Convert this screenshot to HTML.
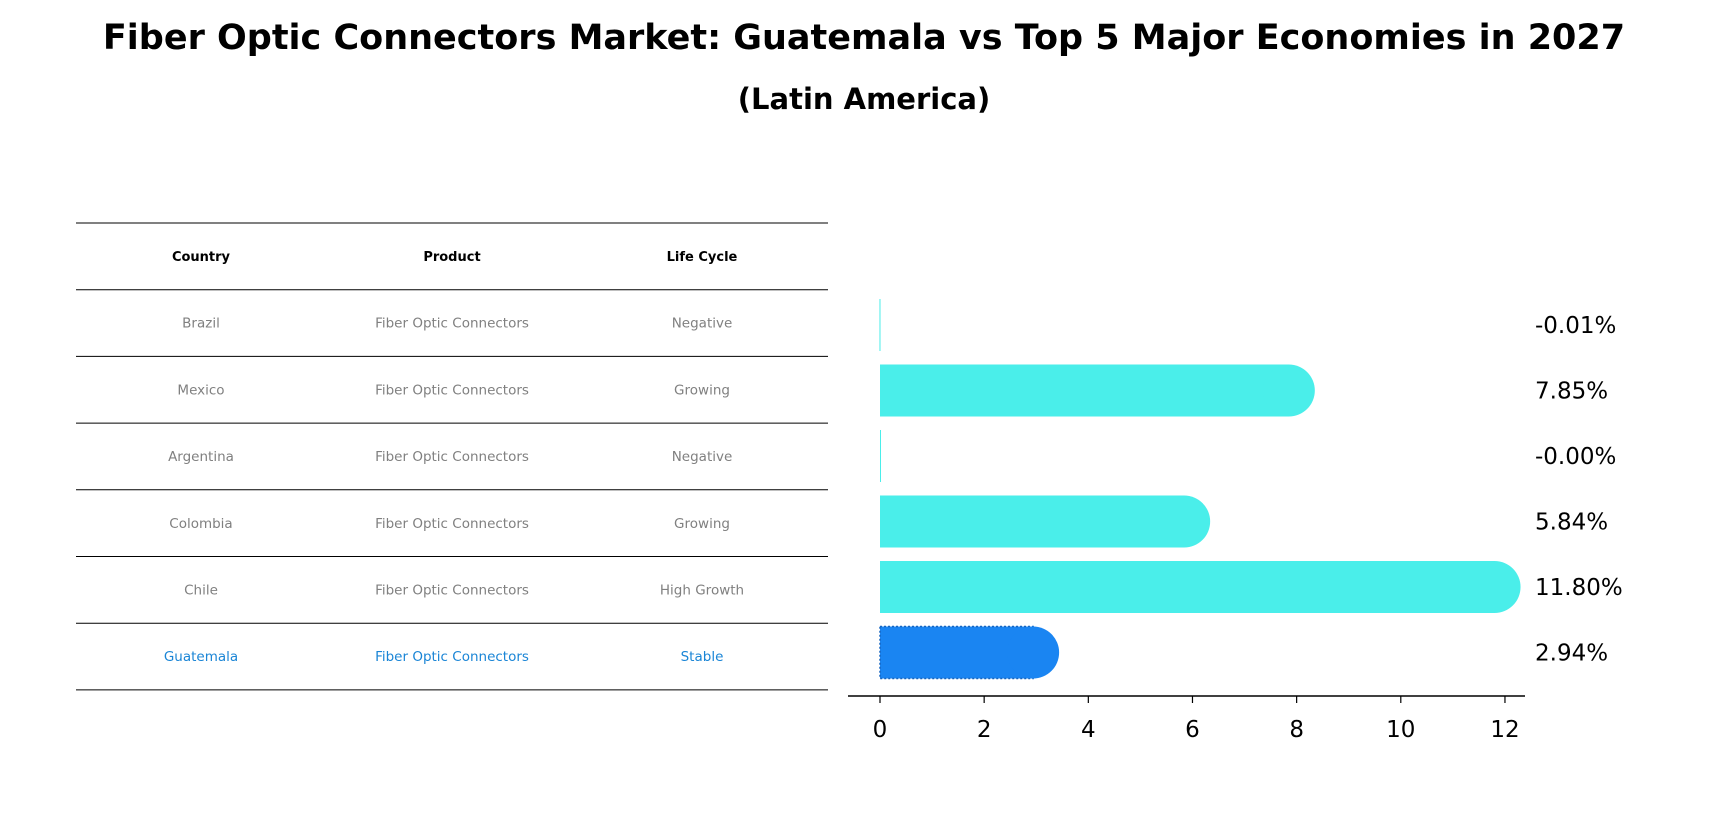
<!DOCTYPE html>
<html><head><meta charset="utf-8"><style>
body{margin:0;background:#fff;font-family:"Liberation Sans","DejaVu Sans",sans-serif}
#wrap{position:relative;width:1728px;height:823px;overflow:hidden}
</style></head><body>
<div id="wrap">
<svg id="svg" width="1728" height="823" xmlns="http://www.w3.org/2000/svg">
<text x="864" y="49" text-anchor="middle" font-family="DejaVu Sans, sans-serif" font-weight="bold" font-size="35">Fiber Optic Connectors Market: Guatemala vs Top 5 Major Economies in 2027</text>
<text x="864" y="109" text-anchor="middle" font-family="DejaVu Sans, sans-serif" font-weight="bold" font-size="29">(Latin America)</text>
<g id="table"></g>
<g id="bars"></g>
</svg>
</div>
<script>
const countries=["Brazil","Mexico","Argentina","Colombia","Chile","Guatemala"];
const products=["Fiber Optic Connectors","Fiber Optic Connectors","Fiber Optic Connectors","Fiber Optic Connectors","Fiber Optic Connectors","Fiber Optic Connectors"];
const lifecycle=["Negative","Growing","Negative","Growing","High Growth","Stable"];
const values=[-0.01,7.85,-0.00,5.84,11.80,2.94];
const valueLabels=["-0.01%","7.85%","-0.00%","5.84%","11.80%","2.94%"];
const xTicks=[0,2,4,6,8,10,12];

const NS="http://www.w3.org/2000/svg";
function mk(tag,attrs,parent){const e=document.createElementNS(NS,tag);for(const k in attrs)e.setAttribute(k,attrs[k]);parent.appendChild(e);return e;}
const tbl=document.getElementById('table');
const rowY=i=>223+i*66.7;
const colX=[201,452,702];
for(let i=0;i<=7;i++){
  const l=mk('line',{x1:76,x2:828,y1:rowY(i),y2:rowY(i),stroke:'#000','stroke-width':1},tbl);
  
  
}
["Country","Product","Life Cycle"].forEach((h,j)=>{
  const t=mk('text',{x:colX[j],y:rowY(0)+38,'text-anchor':'middle','font-size':13,'font-weight':'bold','font-family':'DejaVu Sans, sans-serif'},tbl);
  t.textContent=h;
  
  
});
countries.forEach((c,i)=>{
  const col=c==="Guatemala"?"#1a85d6":"#808080";
  [c,products[i],lifecycle[i]].forEach((s,j)=>{
    const t=mk('text',{x:colX[j],y:rowY(i+1)+38,'text-anchor':'middle','font-size':13.5,fill:col,'font-family':'DejaVu Sans, sans-serif'},tbl);
    t.textContent=s;
    
    
  });
});
const bars=document.getElementById('bars');
const x=v=>880+v*52.08;
const yc=i=>325+i*65.5;
const h=52;
values.forEach((v,i)=>{
  const isG=countries[i]==="Guatemala";
  const fill=isG?"#1a85f2":"#4aeeea";
  const x0=x(Math.min(0,v)),w=Math.abs(x(v)-x(0));
  const r=mk('rect',{x:x0,y:yc(i)-h/2,width:Math.max(w,1),height:h,fill:fill},bars);
  if(isG){r.setAttribute('stroke','#1565c0');r.setAttribute('stroke-dasharray','2,2');r.setAttribute('stroke-width',1.5);}
  
  
  if(v>0){
    const c=mk('circle',{cx:x(v),cy:yc(i),r:h/2,fill:fill},bars);
    
    
  }
  const t=mk('text',{x:1535,y:yc(i)+8,'font-size':23,'font-family':'DejaVu Sans, sans-serif'},bars);
  t.textContent=valueLabels[i];
  
  
});
const ax=mk('line',{x1:848,x2:1525,y1:696,y2:696,stroke:'#000','stroke-width':1.6},bars);


xTicks.forEach(v=>{
  const tk=mk('line',{x1:x(v),x2:x(v),y1:696,y2:703,stroke:'#000','stroke-width':1.2},bars);
  
  
  const t=mk('text',{x:x(v),y:737,'text-anchor':'middle','font-size':23,'font-family':'DejaVu Sans, sans-serif'},bars);
  t.textContent=v;
  
  
});
</script>
</body></html>
